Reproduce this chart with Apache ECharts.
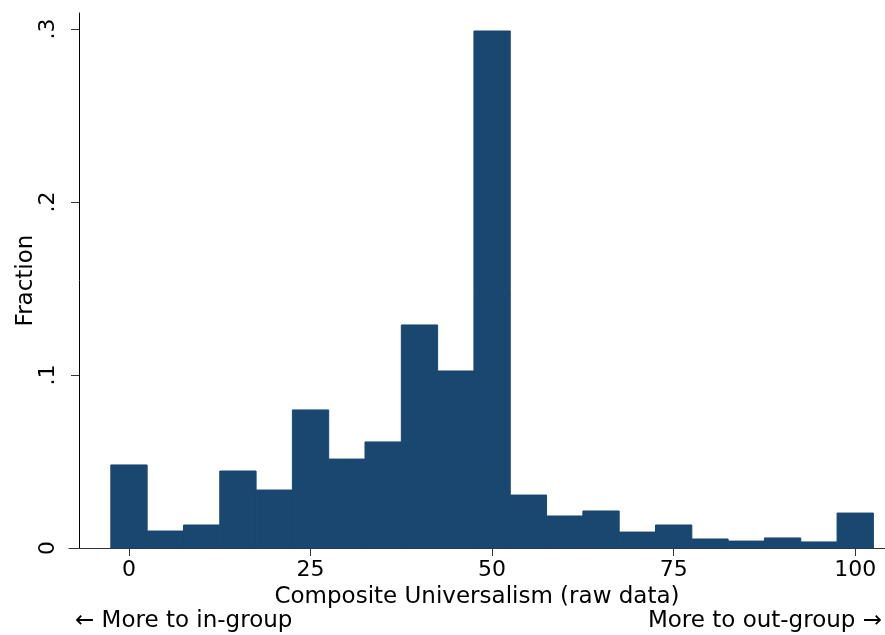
<!DOCTYPE html>
<html>
<head>
<meta charset="utf-8">
<script src="https://cdn.jsdelivr.net/npm/echarts@6/dist/echarts.min.js"></script>
<style>html,body{margin:0;padding:0;background:#fff;}#c{width:885px;height:635px;}</style>
</head>
<body>
<div id="c"></div>
<script>
// Histogram bin centers (Composite Universalism, raw data)
const binCenters = [0, 5, 10, 15, 20, 25, 30, 35, 40, 45, 50, 55, 60, 65, 70, 75, 80, 85, 90, 95, 100];
// Fraction in each bin
const fractions = [0.048, 0.0098, 0.0133, 0.0445, 0.0335, 0.0798, 0.0514, 0.0613, 0.1289, 0.1023, 0.2988,
                   0.0306, 0.0185, 0.0214, 0.0092, 0.0133, 0.0052, 0.0040, 0.0058, 0.0035, 0.0202];
const binWidth = 5;
const xTicks = [0, 25, 50, 75, 100];
const yTicks = [0, 0.1, 0.2, 0.3];
const yTickLabels = ['0', '.1', '.2', '.3'];
const xTitle = 'Composite Universalism (raw data)';
const yTitle = 'Fraction';
const leftNote = '\u2190 More to in-group';
const rightNote = 'More to out-group \u2192';

const FONT = 'DejaVu Sans';
const BAR = '#1a476f';

const chart = echarts.init(document.getElementById('c'), null, {renderer: 'canvas'});
chart.setOption({
  animation: false,
  backgroundColor: '#fff',
  grid: {left: 69, right: 0, top: 13, bottom: 87, containLabel: false, outerBoundsMode: 'none'},
  xAxis: {
    type: 'value', min: -8.26, max: 104.1,
    name: xTitle, nameLocation: 'middle', nameGap: 38, nameMoveOverlap: false,
    nameTextStyle: {fontFamily: FONT, fontSize: 23, color: '#000'},
    axisLine: {show: true, onZero: false, lineStyle: {color: '#333', width: 1}},
    axisTick: {show: true, length: 8, lineStyle: {color: '#333'}, customValues: xTicks},
    axisLabel: {show: true, margin: 11, fontFamily: FONT, fontSize: 22, color: '#000', customValues: xTicks},
    splitLine: {show: false}
  },
  yAxis: {
    type: 'value', min: 0, max: 0.3092, offset: -10,
    name: yTitle, nameLocation: 'middle', nameGap: 41, nameRotate: 90, nameMoveOverlap: false,
    nameTextStyle: {fontFamily: FONT, fontSize: 23, color: '#000'},
    axisLine: {show: true, onZero: false, lineStyle: {color: '#000', width: 1}},
    axisTick: {show: true, length: 8, lineStyle: {color: '#333'}, customValues: yTicks},
    axisLabel: {show: true, rotate: 90, margin: 20, fontFamily: FONT, fontSize: 22, color: '#000',
      customValues: yTicks,
      formatter: function (v) {
        for (let i = 0; i < yTicks.length; i++) if (Math.abs(v - yTicks[i]) < 1e-9) return yTickLabels[i];
        return '';
      }},
    splitLine: {show: false}
  },
  graphic: [
    {type: 'text', left: 75, top: 610, style: {text: leftNote, font: '23px "DejaVu Sans"', fill: '#000'}},
    {type: 'text', right: 3, top: 610, style: {text: rightNote, font: '23px "DejaVu Sans"', fill: '#000'}}
  ],
  series: [{
    type: 'custom',
    data: binCenters.map((c, i) => [c, fractions[i]]),
    renderItem: function (params, api) {
      const c = api.value(0), v = api.value(1);
      const p0 = api.coord([c - binWidth / 2, v]);
      const p1 = api.coord([c + binWidth / 2, 0]);
      return {type: 'rect', shape: {x: p0[0], y: p0[1], width: p1[0] - p0[0], height: p1[1] - p0[1]},
        style: {fill: BAR, stroke: BAR, lineWidth: 1, lineJoin: 'miter'}};
    }
  }]
});
</script>
</body>
</html>
